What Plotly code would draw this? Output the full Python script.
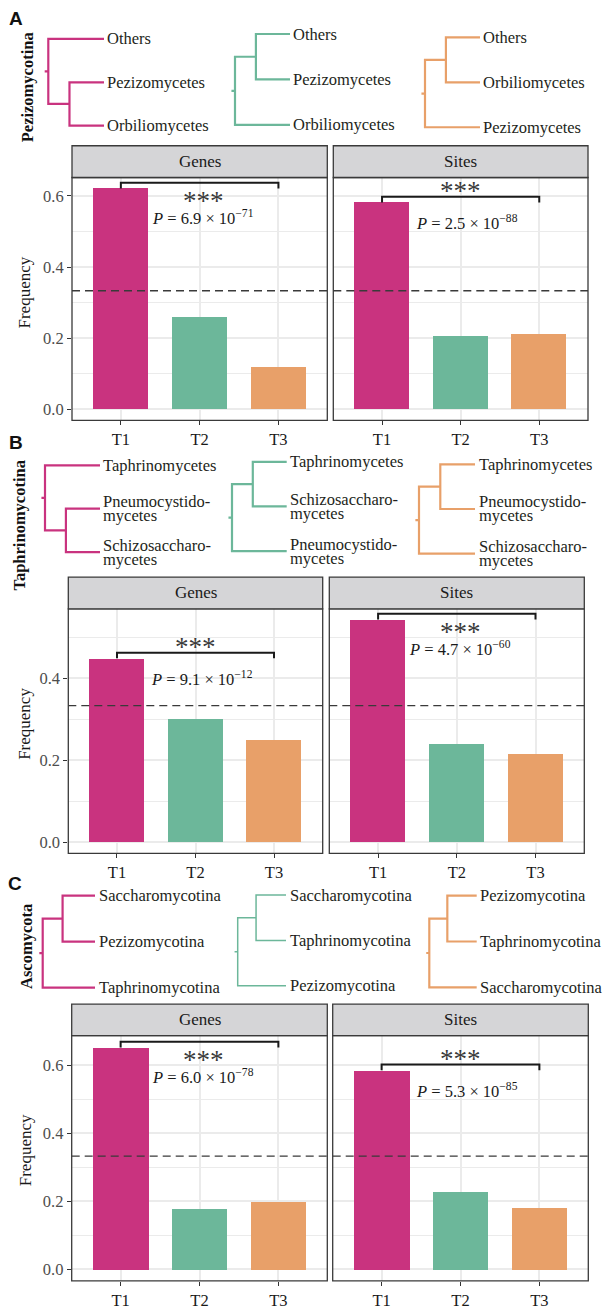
import plotly.graph_objects as go

W, H = 605, 1310

# ---------------- data ----------------
categories = ["T1", "T2", "T3"]
facets = ["Genes", "Sites"]
row_letters = ["A", "B", "C"]
row_titles = ["Pezizomycotina", "Taphrinomycotina", "Ascomycota"]

genes_A = [0.621, 0.259, 0.118]
sites_A = [0.582, 0.206, 0.210]
genes_B = [0.449, 0.301, 0.251]
sites_B = [0.544, 0.241, 0.217]
genes_C = [0.653, 0.178, 0.199]
sites_C = [0.586, 0.230, 0.181]
values = [[genes_A, sites_A], [genes_B, sites_B], [genes_C, sites_C]]

p_mantissa = [["6.9", "2.5"], ["9.1", "4.7"], ["6.0", "5.3"]]
p_exponent = [["71", "88"], ["12", "60"], ["78", "85"]]
star_side = [["below", "above"], ["above", "below"], ["below", "above"]]
expected_freq = 1 / 3

yticks_A = [0.0, 0.2, 0.4, 0.6]
yticks_B = [0.0, 0.2, 0.4]
yticks_C = [0.0, 0.2, 0.4, 0.6]
yminor_A = [0.1, 0.3, 0.5]
yminor_B = [0.1, 0.3, 0.5]
yminor_C = [0.1, 0.3, 0.5]

# trees: tips top->bottom, and whether the cherry is the top pair or bottom pair
trees_A = [(["Others", "Pezizomycetes", "Orbiliomycetes"], "bottom"),
           (["Others", "Pezizomycetes", "Orbiliomycetes"], "top"),
           (["Others", "Orbiliomycetes", "Pezizomycetes"], "top")]
trees_B = [(["Taphrinomycetes", "Pneumocystido-\nmycetes", "Schizosaccharo-\nmycetes"], "bottom"),
           (["Taphrinomycetes", "Schizosaccharo-\nmycetes", "Pneumocystido-\nmycetes"], "top"),
           (["Taphrinomycetes", "Pneumocystido-\nmycetes", "Schizosaccharo-\nmycetes"], "top")]
trees_C = [(["Saccharomycotina", "Pezizomycotina", "Taphrinomycotina"], "top"),
           (["Saccharomycotina", "Taphrinomycotina", "Pezizomycotina"], "top"),
           (["Pezizomycotina", "Taphrinomycotina", "Saccharomycotina"], "top")]
trees = [trees_A, trees_B, trees_C]

colors = ["#C9337F", "#6CB79A", "#E8A069"]

# ---------------- layout geometry (pixels) ----------------
rows = [
    dict(top=179, bot=424, strip=147, genes=(72, 327.3), sites=(333.3, 588),
         yr=[-0.0315, 0.652], ticks=yticks_A, minor=yminor_A, title_y=295,
         letter=(16, 19), rt=(27, 88),
         tree_px=[(48.3, 104, 39.3, 126.7), (235, 290, 34.3, 126), (425, 480, 37.7, 128.3)]),
    dict(top=614, bot=860.7, strip=582, genes=(68.3, 322.7), sites=(329.3, 584.3),
         yr=[-0.0276, 0.570], ticks=yticks_B, minor=yminor_B, title_y=730,
         letter=(16, 446), rt=(20, 530),
         tree_px=[(45, 100, 469.3, 556.7), (232, 286.7, 465.7, 555.7), (419, 475, 468.3, 558.3)]),
    dict(top=1044.3, bot=1291.7, strip=1012.7, genes=(71.7, 327.3), sites=(332.7, 588.3),
         yr=[-0.034, 0.688], ticks=yticks_C, minor=yminor_C, title_y=1160,
         letter=(15, 891), rt=(27, 955),
         tree_px=[(42.7, 95, 903.3, 996), (237.7, 286, 902.7, 994), (429.3, 476.7, 903.3, 995.7)]),
]


def px2x(px):
    return px / W


def px2y(py):
    return 1 - py / H


SERIF = "Liberation Serif"
fig = go.Figure()
annotations = []
shapes = []
layout = {}

for r, row in enumerate(rows):
    pxu = (row["bot"] - row["top"]) / (row["yr"][1] - row["yr"][0])
    for f in range(2):
        idx = r * 2 + f + 1
        xn = "x" if idx == 1 else f"x{idx}"
        yn = "y" if idx == 1 else f"y{idx}"
        l, rr = row["genes"] if f == 0 else row["sites"]
        vals = values[r][f]
        layout["xaxis" if idx == 1 else f"xaxis{idx}"] = dict(
            domain=[px2x(l), px2x(rr)], anchor=yn, type="category",
            categoryorder="array", categoryarray=categories,
            range=[-0.62, 2.62], showgrid=True, gridcolor="#EBEBEB", gridwidth=2,
            ticks="outside", ticklen=4, tickwidth=1.2, tickcolor="#333333",
            tickfont=dict(family=SERIF, size=16.5, color="#1A1A1A"),
            zeroline=False, showline=False, fixedrange=True)
        layout["yaxis" if idx == 1 else f"yaxis{idx}"] = dict(
            domain=[px2y(row["bot"]), px2y(row["top"])], anchor=xn,
            range=row["yr"], tickmode="array", tickvals=row["ticks"], tickformat=".1f",
            showgrid=True, gridcolor="#EBEBEB", gridwidth=2,
            minor=dict(tickmode="array", tickvals=row["minor"], showgrid=True,
                       gridcolor="#EBEBEB", gridwidth=1.3, ticks=""),
            ticks="outside" if f == 0 else "", ticklen=4, tickwidth=1.2, tickcolor="#333333",
            showticklabels=(f == 0),
            tickfont=dict(family=SERIF, size=16.5, color="#4D4D4D"),
            zeroline=False, showline=False, fixedrange=True)

        fig.add_trace(go.Bar(x=categories, y=vals, marker=dict(color=colors, line=dict(width=0)),
                             width=0.7, xaxis=xn, yaxis=yn, showlegend=False))

        # significance bracket T1 vs T3
        tip = 5.7 / pxu
        yb = max(vals) + tip
        fig.add_trace(go.Scatter(x=[categories[0], categories[0], categories[2], categories[2]],
                                 y=[yb - tip, yb, yb, yb - tip], mode="lines",
                                 line=dict(color="#1A1A1A", width=2),
                                 xaxis=xn, yaxis=yn, showlegend=False, hoverinfo="skip"))
        ptxt = (f"<span style='font-size:16.5px'><i>P</i> = {p_mantissa[r][f]} × "
                f"10<sup>−{p_exponent[r][f]}</sup></span>")
        stars = "<span style='font-size:27px;fill:#3A3A3A'>***</span>"
        if star_side[r][f] == "below":
            annotations.append(dict(text=stars + "<br>" + ptxt, x=1, y=yb, xref=xn, yref=yn,
                                    yshift=-1, xshift=3, showarrow=False, align="center",
                                    xanchor="center", yanchor="top",
                                    font=dict(family=SERIF, size=11, color="#1A1A1A")))
        else:
            annotations.append(dict(text=stars, x=1, y=yb, xref=xn, yref=yn,
                                    yshift=-11, showarrow=False,
                                    xanchor="center", yanchor="bottom",
                                    font=dict(family=SERIF, size=11, color="#1A1A1A")))
            annotations.append(dict(text=ptxt, x=1, y=yb, xref=xn, yref=yn, xshift=6,
                                    yshift=-26, showarrow=False,
                                    xanchor="center", yanchor="middle",
                                    font=dict(family=SERIF, size=11, color="#1A1A1A")))

        # expected-frequency dashed line
        shapes.append(dict(type="line", xref=f"{xn} domain", yref=yn, x0=0, x1=1,
                           y0=expected_freq, y1=expected_freq, layer="above",
                           line=dict(color="#3A3A3A", width=1.3, dash="8px,5px")))
        # panel border
        shapes.append(dict(type="rect", xref=f"{xn} domain", yref=f"{yn} domain",
                           x0=0, x1=1, y0=0, y1=1, layer="above",
                           line=dict(color="#3A3A3A", width=1.3)))
        # strip
        sh = (row["top"] - row["strip"]) / (row["bot"] - row["top"])
        shapes.append(dict(type="rect", xref=f"{xn} domain", yref=f"{yn} domain",
                           x0=0, x1=1, y0=1, y1=1 + sh, layer="above",
                           fillcolor="#D5D5D7", line=dict(color="#3A3A3A", width=1.3)))
        annotations.append(dict(text=facets[f], xref=f"{xn} domain", yref=f"{yn} domain",
                                x=0.5, y=1 + sh / 2, showarrow=False, xanchor="center",
                                yanchor="middle", font=dict(family=SERIF, size=17, color="#1A1A1A")))

    # y-axis title
    annotations.append(dict(text="Frequency", xref="paper", yref="paper", x=px2x(25),
                            y=px2y(row["title_y"]), textangle=-90, showarrow=False,
                            xanchor="center", yanchor="middle",
                            font=dict(family=SERIF, size=17, color="#1A1A1A")))
    # panel letter
    annotations.append(dict(text=f"<b>{row_letters[r]}</b>", xref="paper", yref="paper",
                            x=px2x(row["letter"][0]), y=px2y(row["letter"][1]),
                            showarrow=False, xanchor="center", yanchor="middle",
                            font=dict(family="Liberation Sans", size=19, color="#111111")))
    # row title
    annotations.append(dict(text=f"<b>{row_titles[r]}</b>", xref="paper", yref="paper",
                            x=px2x(row["rt"][0]), y=px2y(row["rt"][1]), textangle=-90,
                            showarrow=False, xanchor="center", yanchor="middle",
                            font=dict(family=SERIF, size=16.5, color="#111111")))

    # trees
    L = 2.63
    stub = 0.17
    for t, (tips, cherry) in enumerate(trees[r]):
        k = 7 + r * 3 + t
        rx, tx, ty0, ty2 = row["tree_px"][t]
        s = (tx - rx) / L
        u = (ty2 - ty0) / 2
        layout[f"xaxis{k}"] = dict(domain=[px2x(rx - 0.3 * s), px2x(tx + 0.05 * s)],
                                   range=[-0.3, L + 0.05], anchor=f"y{k}", visible=False,
                                   fixedrange=True)
        layout[f"yaxis{k}"] = dict(domain=[px2y(ty2 + 0.15 * u), px2y(ty0 - 0.15 * u)],
                                   range=[2.15, -0.15], anchor=f"x{k}", visible=False,
                                   fixedrange=True)
        if cherry == "top":
            a, b, single = 0, 1, 2
        else:
            a, b, single = 1, 2, 0
        inner_y = (a + b) / 2
        root_y = (inner_y + single) / 2
        xs = [L, 1, 1, L, None, 1, 0, 0, L, None, -stub, 0]
        ys = [a, a, b, b, None, inner_y, inner_y, single, single, None, root_y, root_y]
        lw = 1.5 if (r == 2 and t == 1) else 2.2
        fig.add_trace(go.Scatter(x=xs, y=ys, mode="lines", xaxis=f"x{k}", yaxis=f"y{k}",
                                 line=dict(color=colors[t], width=lw), showlegend=False,
                                 hoverinfo="skip"))
        for i, lab in enumerate(tips):
            parts = lab.split("\n")
            txt = "<br>".join(f"<span style='font-size:16.5px'>{p}</span>" for p in parts)
            annotations.append(dict(text=txt, x=L, y=i, xref=f"x{k}", yref=f"y{k}",
                                    xanchor="left", yanchor="middle", xshift=1.5, align="left",
                                    showarrow=False,
                                    font=dict(family=SERIF, size=11, color="#231F20")))

fig.update_layout(width=W, height=H, margin=dict(l=0, r=0, t=0, b=0), autosize=False,
                  paper_bgcolor="white", plot_bgcolor="white", showlegend=False,
                  bargap=0, annotations=annotations, shapes=shapes, **layout)
fig.write_html("out.html", config={"displayModeBar": False},
               post_script="document.body.style.margin='0';")
